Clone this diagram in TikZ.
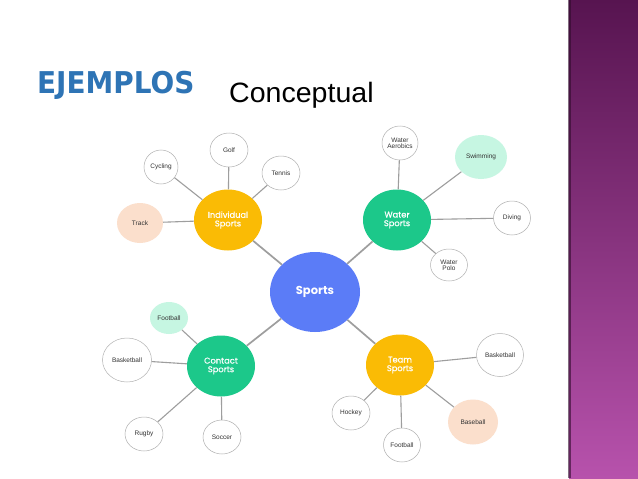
\documentclass[tikz,border=0pt]{standalone}
\usepackage{fontspec}
\setmainfont{Liberation Sans}
\newfontfamily\titlefont{DejaVu Sans}
\newfontfamily\hubfont{Poppins}[FakeBold=0.6]
\newfontfamily\hubbold{Poppins}
\usetikzlibrary{shapes.geometric}
\definecolor{titleblue}{HTML}{2E74B5}
\definecolor{hubblue}{HTML}{5B7CF7}
\definecolor{hubyellow}{HTML}{FABB05}
\definecolor{hubgreen}{HTML}{1CC88A}
\definecolor{mint}{HTML}{C6F6E2}
\definecolor{peach}{HTML}{FBDFCC}
\definecolor{linegray}{HTML}{9E9E9E}
\definecolor{stripetop}{HTML}{571450}
\definecolor{stripebot}{HTML}{B752AC}
\tikzset{
  hub/.style={ellipse, inner sep=0pt, minimum width=68pt, minimum height=61pt, text=white,
    font=\hubfont\fontsize{8.3}{8.6}\selectfont, align=center},
  leaf/.style={ellipse, inner sep=0pt, minimum width=38pt, minimum height=34pt,
    draw=linegray!80, line width=0.5pt, fill=white, text=black!80,
    font=\fontsize{6.5}{7}\selectfont, align=center},
  cleaf/.style={leaf, draw=none},
  conn/.style={draw=linegray, line width=1.1pt},
  mainconn/.style={draw=linegray, line width=1.7pt}
}
\begin{document}
\begin{tikzpicture}[x=1pt,y=-1pt]
\useasboundingbox (0,0) rectangle (638,479);
\fill[white] (0,0) rectangle (638,479);
% right stripe
\shade[top color=stripetop, bottom color=stripebot] (569,0) rectangle (638,478);
\fill[black!45!stripetop, opacity=0.6] (568,0) rectangle (571,478);
% titles
\node[anchor=base west, inner sep=0pt, text=titleblue, font=\titlefont\bfseries\fontsize{30}{32}\selectfont, xscale=0.93] (ej) at (37,93) {EJEMPLOS};
\node[anchor=base west, inner sep=0pt, text=black, font=\fontsize{28}{30}\selectfont, xscale=1.02] (conc) at (229,102) {Conceptual};
% center
\node[ellipse, inner sep=0pt, minimum width=90pt, minimum height=80pt, fill=hubblue, text=white,
  font=\hubbold\bfseries\fontsize{11.5}{12}\selectfont] (sports) at (315,292) {Sports};
% hubs
\node[hub, fill=hubyellow] (ind) at (228,220) {Individual\\Sports};
\node[hub, fill=hubgreen] (wat) at (397,220) {Water\\Sports};
\node[hub, fill=hubgreen] (con) at (221,366) {Contact\\Sports};
\node[hub, fill=hubyellow] (team) at (400,365) {Team\\Sports};
% individual leaves
\node[leaf] (golf) at (229,150) {Golf};
\node[leaf, minimum width=34pt] (cyc) at (161,167) {Cycling};
\node[leaf] (ten) at (281,173) {Tennis};
\node[cleaf, fill=peach, minimum width=46pt, minimum height=40pt] (track) at (140,223) {Track};
% water leaves
\node[leaf, minimum width=36pt] (aer) at (400,143) {Water\\[-1pt]Aerobics};
\node[cleaf, fill=mint, minimum width=52pt, minimum height=44pt] (swim) at (481,157) {Swimming};
\node[leaf, minimum width=37pt] (div) at (512,218) {Diving};
\node[leaf, minimum width=37pt, minimum height=32pt] (polo) at (449,265) {Water\\[-1pt]Polo};
% contact leaves
\node[cleaf, fill=mint, minimum width=38pt, minimum height=32pt] (foot1) at (169,318) {Football};
\node[leaf, minimum width=49pt, minimum height=44pt] (bask1) at (127,360) {Basketball};
\node[leaf] (rug) at (144,434) {Rugby};
\node[leaf] (soc) at (222,437) {Soccer};
% team leaves
\node[leaf, minimum width=47pt, minimum height=43pt] (bask2) at (500,355) {Basketball};
\node[leaf] (hock) at (351,413) {Hockey};
\node[leaf, minimum width=37pt] (foot2) at (402,445) {Football};
\node[cleaf, fill=peach, minimum width=50pt, minimum height=45pt] (base) at (473,422) {Baseball};
% connectors
\draw[mainconn] (sports) -- (ind);
\draw[mainconn] (sports) -- (wat);
\draw[mainconn] (sports) -- (con);
\draw[mainconn] (sports) -- (team);
\draw[conn] (ind) -- (golf);
\draw[conn] (ind) -- (cyc);
\draw[conn] (ind) -- (ten);
\draw[conn] (ind) -- (track);
\draw[conn] (wat) -- (aer);
\draw[conn] (wat) -- (swim);
\draw[conn] (wat) -- (div);
\draw[conn] (wat) -- (polo);
\draw[conn] (con) -- (foot1);
\draw[conn] (con) -- (bask1);
\draw[conn] (con) -- (rug);
\draw[conn] (con) -- (soc);
\draw[conn] (team) -- (bask2);
\draw[conn] (team) -- (hock);
\draw[conn] (team) -- (foot2);
\draw[conn] (team) -- (base);
\end{tikzpicture}
\end{document}
